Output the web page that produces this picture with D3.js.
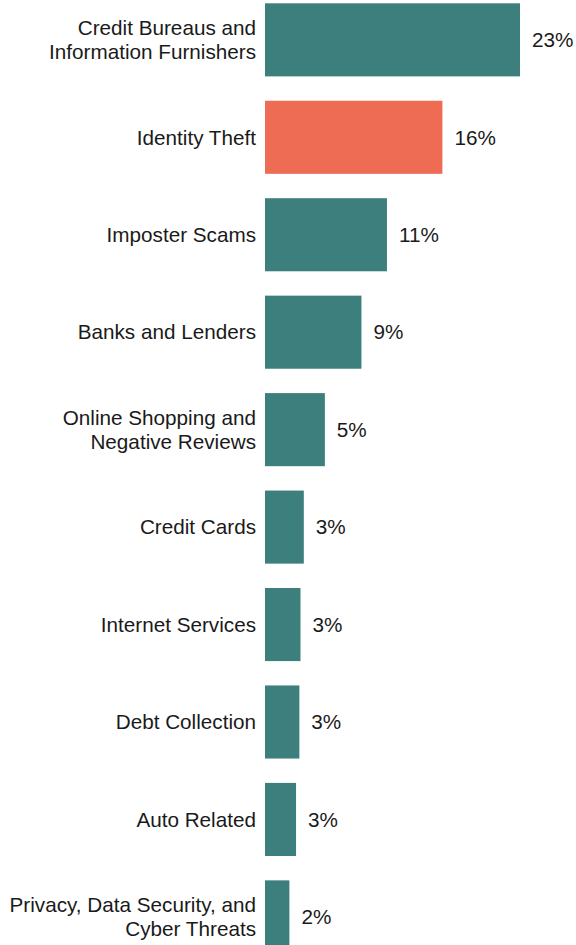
<!DOCTYPE html>
<html><head><meta charset="utf-8">
<script src="https://cdn.jsdelivr.net/npm/d3@7"></script>
<style>html,body{margin:0;padding:0;background:#fff;overflow:hidden}</style>
</head><body>
<svg id="chart" width="576" height="945"></svg>
<script>
const categories = [
  ["Credit Bureaus and", "Information Furnishers"],
  ["Identity Theft"],
  ["Imposter Scams"],
  ["Banks and Lenders"],
  ["Online Shopping and", "Negative Reviews"],
  ["Credit Cards"],
  ["Internet Services"],
  ["Debt Collection"],
  ["Auto Related"],
  ["Privacy, Data Security, and", "Cyber Threats"]
];
const values = [23.0, 16.0, 11.0, 8.7, 5.4, 3.5, 3.2, 3.1, 2.8, 2.2];
const valueLabels = ["23%", "16%", "11%", "9%", "5%", "3%", "3%", "3%", "3%", "2%"];
const highlight = [false, true, false, false, false, false, false, false, false, false];

const svg = d3.select("#chart");
const keys = categories.map(c => c.join(" "));
const y = d3.scaleBand().domain(keys).range([3.3, 3.3 + 97.45 * 9.75]).paddingInner(0.25).paddingOuter(0);
const x = d3.scaleLinear().domain([0, 23]).range([265, 520]);
const font = "'Liberation Sans', Arial, sans-serif";
const fs = 20.7;

const g = svg.append("g");
const rows = g.selectAll("g.row").data(keys).join("g").attr("class", "row");
rows.append("rect")
  .attr("x", x(0))
  .attr("y", d => y(d))
  .attr("width", (d, i) => x(values[i]) - x(0))
  .attr("height", y.bandwidth())
  .attr("fill", (d, i) => highlight[i] ? "#ef6c54" : "#3d7f7d");

rows.append("text")
  .attr("x", (d, i) => x(values[i]) + 12)
  .attr("y", d => y(d) + y.bandwidth() / 2)
  .attr("dy", "0.35em")
  .attr("font-family", font)
  .attr("font-size", fs)
  .attr("fill", "#1a1a1a")
  .text((d, i) => valueLabels[i]);

rows.each(function(d, i) {
  const lines = categories[i];
  const cy = y(d) + y.bandwidth() / 2;
  const t = d3.select(this).append("text")
    .attr("x", 256)
    .attr("text-anchor", "end")
    .attr("font-family", font)
    .attr("font-size", fs)
    .attr("fill", "#1a1a1a");
  lines.forEach((ln, j) => {
    t.append("tspan").attr("x", 256)
      .attr("y", cy + (j - (lines.length - 1) / 2) * 24)
      .attr("dy", "0.35em")
      .text(ln);
  });
});
</script>
</body></html>
